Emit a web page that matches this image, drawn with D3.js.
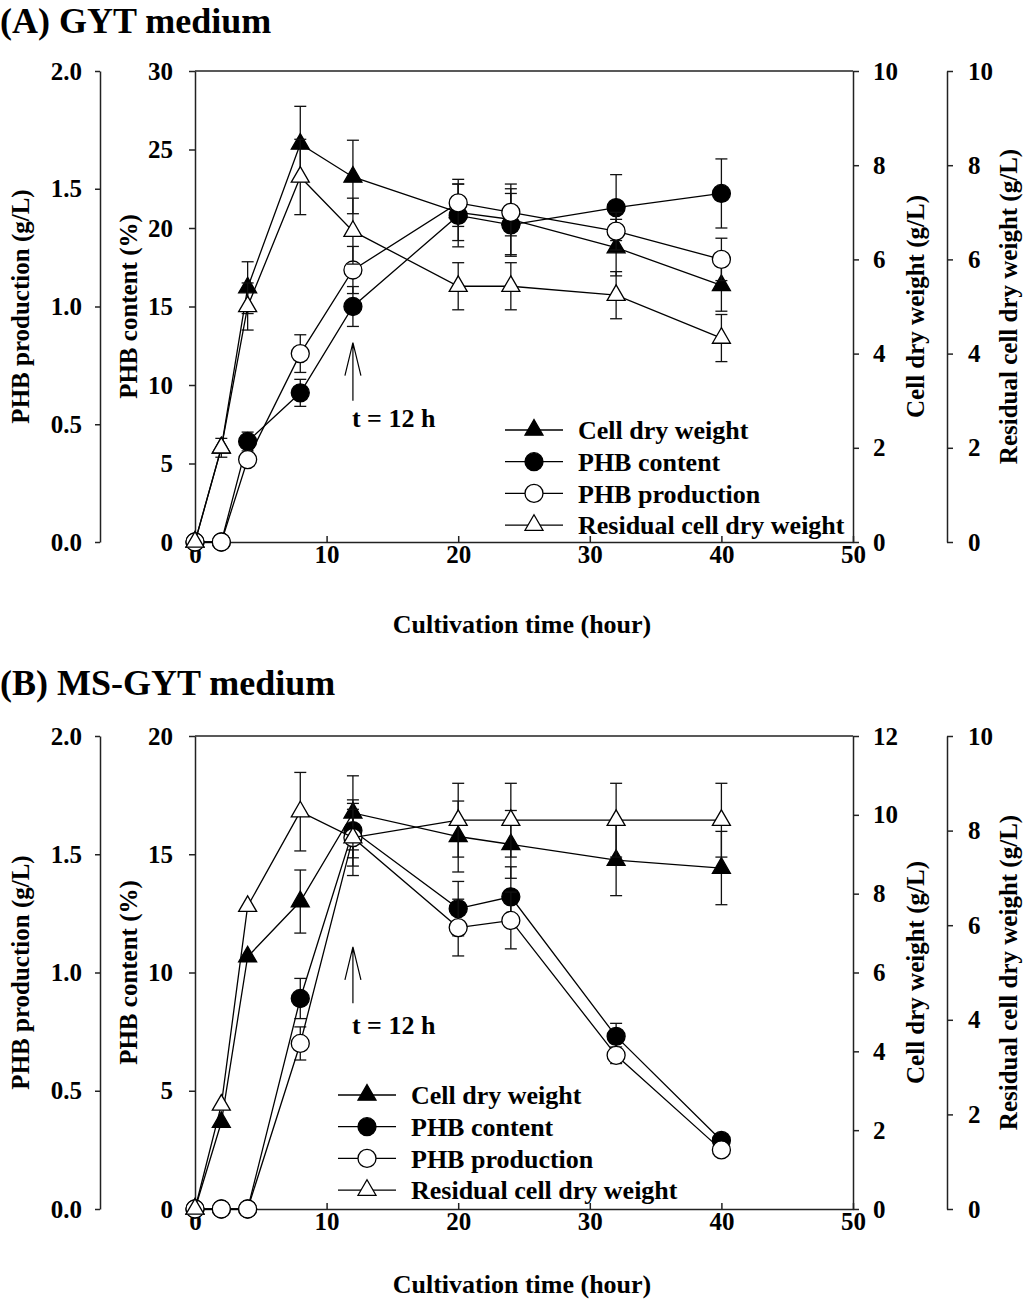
<!DOCTYPE html>
<html>
<head>
<meta charset="utf-8">
<script src="https://cdn.jsdelivr.net/npm/d3@7"></script>
<style>
body { margin: 0; background: #fff; }
text { font-family: "Liberation Serif", "Times New Roman", serif; font-weight: bold; fill: #000; }
.tick text { font-size: 25px; }
.axis path, .axis line { stroke: #222; stroke-width: 1.5; }
</style>
</head>
<body>
<div id="chart"></div>
<script>
// sampling times (hour)
var time = [0, 2, 4, 8, 12, 20, 24, 32, 40];

// (A) GYT medium
var cdwA = [0, 2.0, 5.4, 8.45, 7.75, 7.0, 6.85, 6.25, 5.45];
var cdwErrA = [0, 0, 0.55, 0.8, 0.78, 0.6, 0.75, 0.6, 0.55];
var contentA = [0, 0, 6.4, 9.5, 15.0, 20.8, 20.2, 21.3, 22.2];
var contentErrA = [0, 0, 0.6, 0.86, 1.27, 2.0, 2.0, 2.1, 2.2];
var productionA = [0, 0, 0.35, 0.80, 1.155, 1.44, 1.40, 1.32, 1.20];
var productionErrA = [0, 0, 0.02, 0.08, 0.1, 0.1, 0.1, 0.08, 0.09];
var residualA = [0, 2.0, 5.0, 7.75, 6.6, 5.43, 5.43, 5.24, 4.33];
var residualErrA = [0, 0.2, 0.5, 0.8, 0.7, 0.5, 0.5, 0.5, 0.5];

// (B) MS-GYT medium
var cdwB = [0, 2.2, 6.4, 7.8, 10.05, 9.45, 9.25, 8.85, 8.65];
var cdwErrB = [0, 0, 0, 0.8, 0.94, 0.9, 0.86, 0.9, 0.93];
var contentB = [0, 0, 0, 8.9, 16.0, 12.7, 13.2, 7.3, 2.9];
var contentErrB = [0, 0, 0, 0.85, 1.15, 1.15, 1.27, 0.55, 0.1];
var productionB = [0, 0, 0, 0.70, 1.57, 1.19, 1.22, 0.65, 0.25];
var productionErrB = [0, 0, 0, 0.07, 0.12, 0.12, 0.12, 0.035, 0];
var residualB = [0, 2.2, 6.4, 8.4, 7.85, 8.22, 8.22, 8.22, 8.22];
var residualErrB = [0, 0, 0, 0.83, 0.8, 0.78, 0.78, 0.78, 0.78];

var legendLabels = ["Cell dry weight", "PHB content", "PHB production", "Residual cell dry weight"];
var xTicks = [0, 10, 20, 30, 40, 50];

var svg = d3.select("#chart").append("svg")
  .attr("width", 1024)
  .attr("height", 1304);

function marker(g, type, cx, cy) {
  if (type === "circle" || type === "ocircle") {
    g.append("circle").attr("cx", cx).attr("cy", cy).attr("r", 9)
      .attr("fill", type === "circle" ? "#000" : "#fff")
      .attr("stroke", "#000").attr("stroke-width", 1.3);
  } else {
    g.append("path").attr("d", d3.symbol().type(d3.symbolTriangle).size(140)())
      .attr("transform", `translate(${cx},${cy})`)
      .attr("fill", type === "tri" ? "#000" : "#fff")
      .attr("stroke", "#000").attr("stroke-width", 1.3);
  }
}

function drawPanel(p) {
  var x = d3.scaleLinear().domain([0, 50]).range([195, 853]);
  var yProd = d3.scaleLinear().domain([0, 2]).range([p.bottom, p.top]);
  var yContent = d3.scaleLinear().domain([0, p.contentMax]).range([p.bottom, p.top]);
  var yCdw = d3.scaleLinear().domain([0, p.cdwMax]).range([p.bottom, p.top]);
  var yRes = d3.scaleLinear().domain([0, 10]).range([p.bottom, p.top]);

  // title
  svg.append("text").attr("x", 0).attr("y", p.titleY)
    .style("font-size", "36px").text(p.title);

  // axes
  svg.append("g").attr("class", "axis").attr("transform", "translate(100,0)")
    .call(d3.axisLeft(yProd).tickValues([0, 0.5, 1, 1.5, 2]).tickFormat(d3.format(".1f"))
      .tickSize(5).tickSizeOuter(0).tickPadding(13));
  svg.append("g").attr("class", "axis").attr("transform", "translate(195,0)")
    .call(d3.axisLeft(yContent).tickValues(d3.range(0, p.contentMax + 1, 5))
      .tickSize(6).tickSizeOuter(0).tickPadding(16));
  svg.append("g").attr("class", "axis").attr("transform", "translate(853,0)")
    .call(d3.axisRight(yCdw).tickValues(d3.range(0, p.cdwMax + 1, 2))
      .tickSize(6).tickSizeOuter(0).tickPadding(14));
  svg.append("g").attr("class", "axis").attr("transform", "translate(947,0)")
    .call(d3.axisRight(yRes).tickValues(d3.range(0, 11, 2))
      .tickSize(6).tickSizeOuter(0).tickPadding(15));
  svg.append("g").attr("class", "axis").attr("transform", `translate(0,${p.bottom})`)
    .call(d3.axisBottom(x).tickValues(xTicks).tickSizeInner(-6).tickSizeOuter(0).tickPadding(3));
  // top frame
  svg.append("line").attr("x1", 195).attr("x2", 853).attr("y1", p.top).attr("y2", p.top)
    .attr("stroke", "#222").attr("stroke-width", 1.5);

  // axis titles
  var midY = (p.top + p.bottom) / 2;
  var titles = [[20, "PHB production (g/L)"], [128, "PHB content (%)"],
                [915, "Cell dry weight (g/L)"], [1008, "Residual cell dry weight (g/L)"]];
  titles.forEach(function(t) {
    svg.append("text").attr("transform", `translate(${t[0]},${midY}) rotate(-90)`)
      .attr("text-anchor", "middle").attr("dy", "0.35em")
      .style("font-size", "25px").text(t[1]);
  });
  svg.append("text").attr("x", 522).attr("y", p.bottom + p.xTitleGap)
    .attr("text-anchor", "middle").style("font-size", "26px")
    .text("Cultivation time (hour)");

  // series (legend order, later drawn on top)
  var series = [
    {vals: p.cdw, err: p.cdwErr, y: yCdw, type: "tri"},
    {vals: p.content, err: p.contentErr, y: yContent, type: "circle"},
    {vals: p.production, err: p.productionErr, y: yProd, type: "ocircle"},
    {vals: p.residual, err: p.residualErr, y: yRes, type: "otri"}
  ];
  var plot = svg.append("g");
  series.forEach(function(s) {
    var g = plot.append("g");
    s.vals.forEach(function(v, i) {
      var e = s.err[i];
      if (!e) return;
      var cx = x(time[i]);
      g.append("line").attr("x1", cx).attr("x2", cx)
        .attr("y1", s.y(v - e)).attr("y2", s.y(v + e))
        .attr("stroke", "#111").attr("stroke-width", 1.3);
      [v - e, v + e].forEach(function(c) {
        g.append("line").attr("x1", cx - 6).attr("x2", cx + 6)
          .attr("y1", s.y(c)).attr("y2", s.y(c))
          .attr("stroke", "#111").attr("stroke-width", 1.3);
      });
    });
    g.append("path").datum(s.vals)
      .attr("fill", "none").attr("stroke", "#000").attr("stroke-width", 1.3)
      .attr("d", d3.line().x((d, i) => x(time[i])).y(d => s.y(d)));
    s.vals.forEach(function(v, i) {
      marker(g, s.type, x(time[i]), s.y(v));
    });
  });

  // t = 12 h arrow
  var ax = x(12);
  var tip = yContent(p.arrowTip), tail = yContent(p.arrowTail);
  svg.append("path")
    .attr("d", `M${ax},${tail}L${ax},${tip}M${ax - 8},${tip + 33}L${ax},${tip}L${ax + 8},${tip + 33}`)
    .attr("fill", "none").attr("stroke", "#000").attr("stroke-width", 1.2);
  svg.append("text").attr("x", ax - 1).attr("y", yContent(p.arrowLabel)).attr("dy", "0.35em")
    .style("font-size", "26px").text("t = 12 h");

  // legend
  var types = ["tri", "circle", "ocircle", "otri"];
  legendLabels.forEach(function(lab, i) {
    var ly = p.legendY + i * 31.7;
    svg.append("line").attr("x1", p.legendX).attr("x2", p.legendX + 58)
      .attr("y1", ly).attr("y2", ly).attr("stroke", "#000").attr("stroke-width", 1.3);
    marker(svg, types[i], p.legendX + 29, ly);
    svg.append("text").attr("x", p.legendX + 73).attr("y", ly).attr("dy", "0.35em")
      .style("font-size", "26px").text(lab);
  });
}

drawPanel({
  title: "(A) GYT medium", titleY: 33, top: 71, bottom: 542, xTitleGap: 91,
  contentMax: 30, cdwMax: 10,
  cdw: cdwA, cdwErr: cdwErrA, content: contentA, contentErr: contentErrA,
  production: productionA, productionErr: productionErrA,
  residual: residualA, residualErr: residualErrA,
  arrowTip: 12.7, arrowTail: 9.0, arrowLabel: 7.9,
  legendX: 505, legendY: 430
});

drawPanel({
  title: "(B) MS-GYT medium", titleY: 695, top: 736, bottom: 1209, xTitleGap: 84,
  contentMax: 20, cdwMax: 12,
  cdw: cdwB, cdwErr: cdwErrB, content: contentB, contentErr: contentErrB,
  production: productionB, productionErr: productionErrB,
  residual: residualB, residualErr: residualErrB,
  arrowTip: 11.08, arrowTail: 8.7, arrowLabel: 7.8,
  legendX: 338, legendY: 1095
});
</script>
</body>
</html>
